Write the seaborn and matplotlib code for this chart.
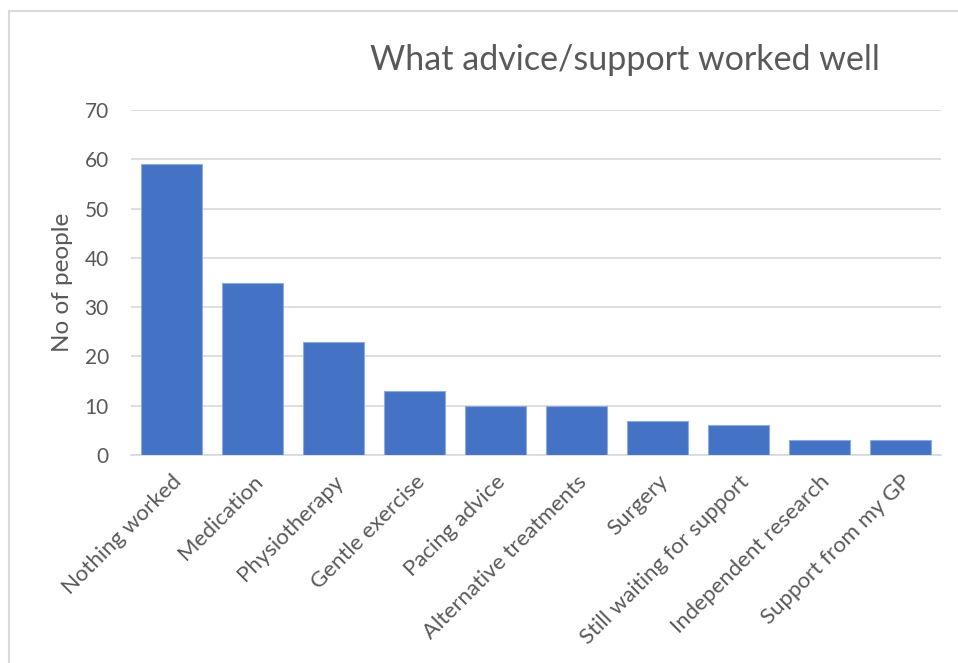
import matplotlib
matplotlib.use("Agg")
import matplotlib.pyplot as plt
import seaborn as sns
import pandas as pd
from matplotlib.lines import Line2D

categories = ["Nothing worked", "Medication", "Physiotherapy", "Gentle exercise",
              "Pacing advice", "Alternative treatments", "Surgery",
              "Still waiting for support", "Independent research", "Support from my GP"]
values = [59, 35, 23, 13, 10, 10, 7, 6, 3, 3]
yticks = [0, 10, 20, 30, 40, 50, 60, 70]

sns.set_theme(style="white")
plt.rcParams['font.family'] = ['Lato', 'DejaVu Sans']

W, H = 958, 663
fig = plt.figure(figsize=(W / 100, H / 100), dpi=100)
ax = fig.add_axes([131 / W, 1 - 455 / H, (941 - 131) / W, (455 - 110) / H])

df = pd.DataFrame({"cat": categories, "val": values})
sns.barplot(data=df, x="cat", y="val", color="#4472C4", saturation=1, width=0.75,
            edgecolor="#8FAADC", linewidth=0.8, ax=ax, zorder=3)

ax.set_ylim(0, 70)
ax.set_xlim(-0.5, len(categories) - 0.5)
ax.set_yticks(yticks)
ax.yaxis.grid(True, color="#D9D9D9", linewidth=1.2, zorder=0)
ax.set_axisbelow(True)
for s in ["top", "right", "left"]:
    ax.spines[s].set_visible(False)
ax.spines["bottom"].set_color("#D9D9D9")
ax.spines["bottom"].set_linewidth(1.2)
ax.tick_params(axis="both", length=0, colors="#595959")
ax.tick_params(axis="y", pad=16, labelsize=15)
ax.set_xlabel("")
ax.set_ylabel("No of people", fontsize=17.5, color="#595959", labelpad=8)
ax.set_xticks(range(len(categories)))
ax.set_xticklabels(categories, rotation=45, ha="right", rotation_mode="anchor",
                   fontsize=16, color="#595959")
ax.tick_params(axis="x", pad=12)

fig.text(625 / W, 1 - 60 / H, "What advice/support worked well", ha="center", va="center",
         fontsize=24.5, color="#595959")

fig.add_artist(Line2D([9 / W, 9 / W], [0, 1 - 11 / H], color="#D9D9D9", linewidth=1.5,
                      transform=fig.transFigure))
fig.add_artist(Line2D([9 / W, 1], [1 - 11 / H, 1 - 11 / H], color="#D9D9D9", linewidth=1.5,
                      transform=fig.transFigure))

fig.savefig("out.png", dpi=100, facecolor="white")
